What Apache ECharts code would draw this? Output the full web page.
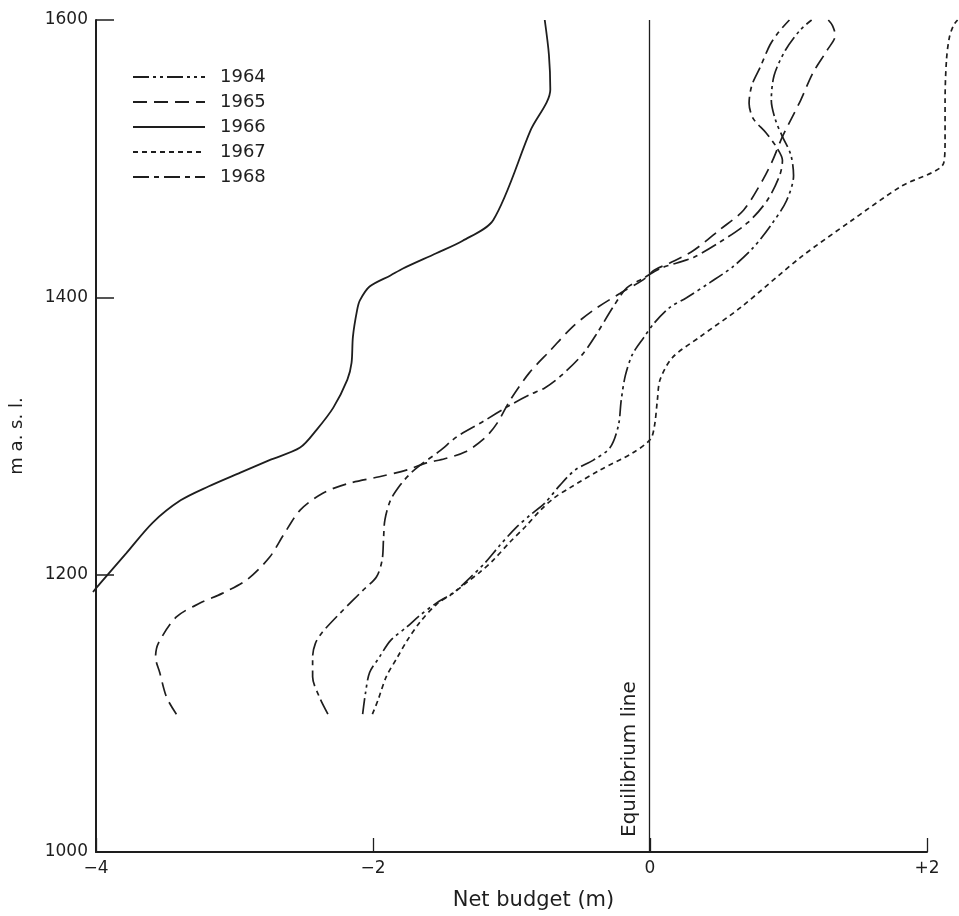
<!DOCTYPE html>
<html>
<head>
<meta charset="utf-8">
<script src="https://cdn.jsdelivr.net/npm/echarts@6/dist/echarts.min.js"></script>
<style>
html,body{margin:0;padding:0;background:#ffffff;}
#chart{width:959px;height:916px;}
</style>
</head>
<body>
<div id="chart"></div>
<script>
// ---- data (net budget in m, elevation in m a.s.l.) ----
const years = ['1964', '1965', '1966', '1967', '1968'];

const xTicks = [-4, -2, 0, 2];
const xTickLabels = ['\u22124', '\u22122', '0', '+2'];
const yTicks = [1000, 1200, 1400, 1600];
const yTickLabels = ['1000', '1200', '1400', '1600'];
const equilibriumBudget = 0;
const equilibriumLabel = 'Equilibrium line';

const s1964 = [[-2.06,1100],[-2.04,1115],[-2.01,1130],[-1.94,1141],[-1.86,1153],[-1.74,1163],[-1.65,1171],[-1.53,1180],[-1.40,1188],[-1.29,1198],[-1.18,1209],[-1.07,1222],[-0.96,1234],[-0.86,1243],[-0.75,1252],[-0.64,1265],[-0.53,1276],[-0.40,1283],[-0.28,1292],[-0.22,1308],[-0.20,1326],[-0.17,1344],[-0.12,1359],[-0.04,1371],[0.04,1382],[0.15,1393],[0.27,1400],[0.44,1411],[0.60,1422],[0.75,1436],[0.89,1454],[0.99,1470],[1.04,1488],[1.02,1503],[0.96,1516],[0.91,1528],[0.88,1542],[0.90,1560],[0.98,1578],[1.09,1593],[1.17,1600]];

const s1965 = [[-3.40,1100],[-3.47,1112],[-3.52,1130],[-3.55,1141],[-3.53,1151],[-3.40,1170],[-3.23,1180],[-3.07,1187],[-2.89,1197],[-2.73,1213],[-2.63,1229],[-2.51,1247],[-2.35,1259],[-2.17,1266],[-1.94,1271],[-1.74,1276],[-1.60,1281],[-1.47,1284],[-1.32,1289],[-1.18,1299],[-1.09,1310],[-1.00,1326],[-0.86,1346],[-0.71,1362],[-0.55,1379],[-0.40,1391],[-0.21,1403],[-0.04,1413],[0.04,1420],[0.15,1425],[0.32,1434],[0.51,1449],[0.68,1463],[0.82,1485],[0.89,1499],[0.96,1516],[1.09,1542],[1.18,1562],[1.28,1578],[1.34,1589],[1.32,1596],[1.29,1600]];

const s1966 = [[-0.75,1600],[-0.72,1575],[-0.71,1550],[-0.85,1521],[-1.12,1456],[-1.34,1441],[-1.53,1432],[-1.77,1421],[-1.86,1416],[-2.01,1408],[-2.08,1398],[-2.10,1391],[-2.13,1372],[-2.14,1353],[-2.17,1341],[-2.27,1321],[-2.39,1305],[-2.51,1292],[-2.73,1283],[-2.94,1274],[-3.17,1264],[-3.37,1254],[-3.57,1238],[-3.76,1216],[-3.95,1194],[-4.00,1188]];

const s1967 = [[-1.99,1100],[-1.95,1110],[-1.89,1127],[-1.81,1141],[-1.74,1153],[-1.65,1166],[-1.53,1179],[-1.41,1187],[-1.31,1195],[-1.22,1202],[-1.12,1211],[-1.00,1224],[-0.89,1235],[-0.78,1247],[-0.68,1256],[-0.57,1263],[-0.35,1276],[-0.12,1288],[0.01,1298],[0.04,1308],[0.06,1326],[0.08,1341],[0.17,1357],[0.37,1372],[0.66,1393],[1.09,1429],[1.45,1455],[1.81,1480],[2.12,1497],[2.13,1514],[2.13,1542],[2.14,1571],[2.16,1587],[2.19,1596],[2.22,1600]];

const s1968 = [[-2.31,1100],[-2.37,1112],[-2.42,1127],[-2.42,1141],[-2.40,1151],[-2.35,1159],[-2.22,1173],[-2.06,1189],[-1.96,1199],[-1.92,1211],[-1.91,1226],[-1.90,1240],[-1.86,1254],[-1.79,1265],[-1.72,1273],[-1.65,1279],[-1.50,1290],[-1.38,1300],[-1.19,1311],[-1.01,1322],[-0.86,1330],[-0.75,1335],[-0.63,1344],[-0.48,1359],[-0.37,1375],[-0.26,1393],[-0.16,1407],[-0.04,1414],[0.08,1421],[0.20,1425],[0.32,1429],[0.51,1440],[0.71,1454],[0.85,1470],[0.94,1488],[0.96,1499],[0.92,1508],[0.84,1519],[0.75,1529],[0.72,1540],[0.74,1553],[0.80,1566],[0.87,1582],[0.93,1591],[1.01,1600]];

const seriesData = [s1964, s1965, s1966, s1967, s1968];

// ---- layout & styles ----
const W = 959;
const plotLeft = 93, plotRight = 32, plotTop = 20, plotBottom = 63;
const xMin = xTicks[0], xMax = xTicks[xTicks.length - 1];
const unitPx = (W - plotLeft - plotRight) / (xMax - xMin);
// the data layer spans to the right edge of the page (the 1967 curve runs past +2)
const xMaxData = xMin + (W - plotLeft) / unitPx;

const ink = '#1e1e1e';
const font = 'DejaVu Sans';
const dashes = [
  [16, 4, 3, 4, 3, 4],   // 1964  long dash + two dots
  [14, 7],               // 1965  long dashes
  'solid',               // 1966
  [5, 4],                // 1967  short dashes
  [16, 5, 5, 5]          // 1968  long + short dash
];

const chart = echarts.init(document.getElementById('chart'), null, {renderer: 'canvas'});

const series = years.map((yr, i) => {
  const s = {
    name: yr,
    type: 'line',
    xAxisIndex: 1,
    yAxisIndex: 1,
    data: seriesData[i],
    symbol: 'none',
    legendIcon: 'none',
    smooth: 0.3,
    lineStyle: {color: ink, width: i === 2 ? 1.8 : 1.7, type: dashes[i]},
    itemStyle: {color: ink},
    emphasis: {disabled: true},
    z: 3
  };
  if (i === 2) {
    s.markLine = {
      silent: true,
      symbol: 'none',
      lineStyle: {color: ink, width: 1.3, type: 'solid'},
      label: {
        show: true,
        position: 'insideStartTop',
        formatter: equilibriumLabel,
        fontFamily: font,
        fontSize: 20,
        color: ink,
        distance: [16, 9]
      },
      data: [[{coord: [equilibriumBudget, yTicks[0]]}, {coord: [equilibriumBudget, yTicks[yTicks.length - 1]]}]]
    };
  }
  return s;
});

chart.setOption({
  backgroundColor: '#ffffff',
  animation: false,
  textStyle: {fontFamily: font, color: ink},
  grid: [
    {left: plotLeft, right: plotRight, top: plotTop, bottom: plotBottom, containLabel: false},
    {left: plotLeft, right: 0, top: plotTop, bottom: plotBottom, containLabel: false}
  ],
  legend: {
    data: years,
    orient: 'vertical',
    left: 127,
    top: 63,
    itemWidth: 72,
    itemHeight: 14,
    itemGap: 7,
    selectedMode: false,
    itemStyle: {opacity: 0},
    textStyle: {fontFamily: font, fontSize: 18, color: ink, padding: [0, 0, 0, 10]}
  },
  xAxis: [{
    gridIndex: 0,
    type: 'value',
    min: xMin,
    max: xMax,
    interval: 2,
    name: 'Net budget (m)',
    nameLocation: 'middle',
    nameGap: 38,
    nameTextStyle: {fontFamily: font, fontSize: 21, color: ink, padding: [0, 0, 0, 44]},
    axisLine: {show: true, onZero: false, lineStyle: {color: ink, width: 2}},
    axisTick: {show: true, inside: true, length: 14, lineStyle: {color: ink, width: 1.3}},
    axisLabel: {
      margin: 8, fontFamily: font, fontSize: 17, color: ink,
      formatter: v => { const k = xTicks.indexOf(v); return k >= 0 ? xTickLabels[k] : ''; }
    },
    splitLine: {show: false}
  }, {
    gridIndex: 1,
    type: 'value',
    min: xMin,
    max: xMaxData,
    show: false,
    splitLine: {show: false}
  }],
  yAxis: [{
    gridIndex: 0,
    type: 'value',
    min: yTicks[0],
    max: yTicks[yTicks.length - 1],
    interval: 200,
    name: 'm a. s. l.',
    nameLocation: 'middle',
    nameRotate: 90,
    nameGap: 70,
    nameTextStyle: {fontFamily: font, fontSize: 18, color: ink},
    axisLine: {show: true, onZero: false, lineStyle: {color: ink, width: 2}},
    axisTick: {show: true, inside: true, length: 18, lineStyle: {color: ink, width: 1.5}},
    axisLabel: {
      margin: 8, fontFamily: font, fontSize: 17, color: ink,
      formatter: v => { const k = yTicks.indexOf(v); return k >= 0 ? yTickLabels[k] : ''; }
    },
    splitLine: {show: false}
  }, {
    gridIndex: 1,
    type: 'value',
    min: yTicks[0],
    max: yTicks[yTicks.length - 1],
    show: false,
    splitLine: {show: false}
  }],
  series: series
});
</script>
</body>
</html>
